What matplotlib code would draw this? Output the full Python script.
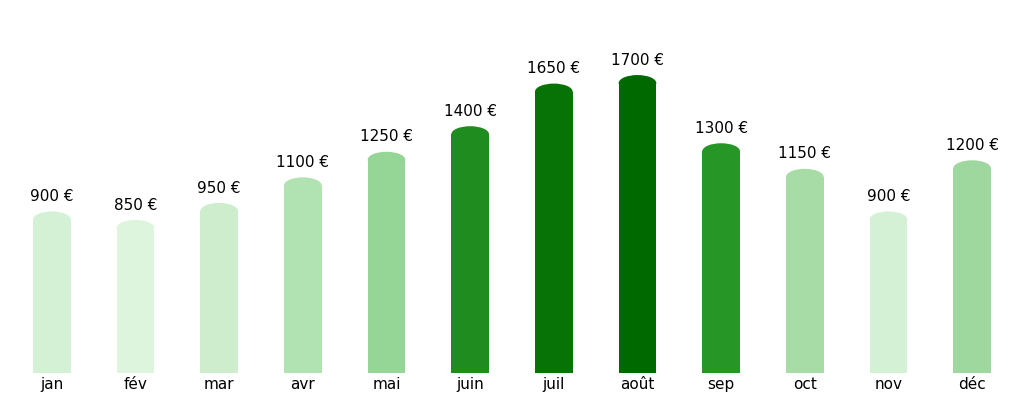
import matplotlib.pyplot as plt
from matplotlib.patches import Rectangle, Ellipse

mois = ['jan', 'fév', 'mar', 'avr', 'mai', 'juin', 'juil', 'août', 'sep', 'oct', 'nov', 'déc']
montants = [900, 850, 950, 1100, 1250, 1400, 1650, 1700, 1300, 1150, 900, 1200]
couleurs = ['#d5f1d5', '#ddf4dd', '#cdedcd', '#b1e2b1', '#95d595', '#1f8c1f',
            '#077307', '#006a00', '#269626', '#a7dca7', '#d5f1d5', '#9ed89e']

fig = plt.figure(figsize=(10.24, 4.04), dpi=100)
ax = fig.add_axes([0, 0.077, 1, 0.844])

w = 0.45
cap = 94  # hauteur de l'ellipse en unités de données
for i, (v, c) in enumerate(zip(montants, couleurs)):
    ax.add_patch(Rectangle((i - w / 2, 0), w, v, facecolor=c, edgecolor='none'))
    ax.add_patch(Ellipse((i, v), w, cap, facecolor=c, edgecolor='none'))
    ax.text(i, v + 90, f'{v} €', ha='center', va='bottom', fontsize=11)

ax.set_xlim(-0.62, 11.62)
ax.set_ylim(0, 2000)
ax.set_xticks(range(len(mois)))
ax.set_xticklabels(mois, fontsize=11)
ax.tick_params(axis='x', length=0, pad=3)
ax.set_yticks([])
for s in ax.spines.values():
    s.set_visible(False)

fig.savefig('out.png', dpi=100)
